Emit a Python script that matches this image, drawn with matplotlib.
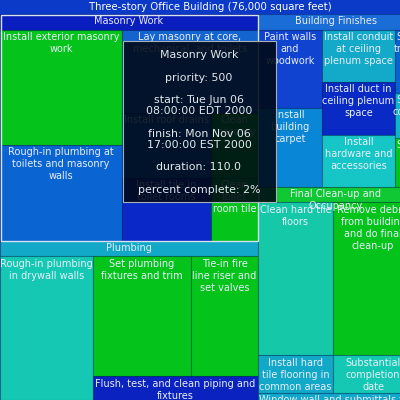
import matplotlib.pyplot as plt
from matplotlib.patches import Rectangle

TITLE = "Three-story Office Building (76,000 square feet)"

# top level nodes (4 groups + one loose task)
root_names = ["Masonry Work", "Plumbing", "Building Finishes",
              "Final Clean-up and\nOccupancy", "Window wall and submittals for\nreview"]
root_layout = [[0, 1], [2, 3, 4]]

masonry_tasks = ["Install exterior masonry\nwork",
                 "Rough-in plumbing at\ntoilets and masonry\nwalls",
                 "Lay masonry at core,\nmechanical, and toilets",
                 "Install roof drains",
                 "Clean\nmasonry",
                 "Install tile in\ntoilet rooms",
                 "Clean\ntoilet\nroom tile"]
masonry_size = [151.0, 126.0, 121.4, 62.2, 32.9, 60.3, 31.9]
masonry_layout = [[0, 1], [2, [[3, 5], [4, 6]]]]

plumbing_tasks = ["Rough-in plumbing\nin drywall walls",
                  "Set plumbing\nfixtures and trim",
                  "Tie-in fire\nline riser and\nset valves",
                  "Flush, test, and clean piping and\nfixtures"]
plumbing_size = [147.9, 129.9, 88.8, 43.7]
plumbing_layout = [[0], [[1, 2], 3]]

finishes_tasks = ["Paint walls\nand\nwoodwork",
                  "Install\nbuilding\ncarpet",
                  "Install conduit\nat ceiling\nplenum space",
                  "Install duct in\nceiling plenum\nspace",
                  "Install\nhardware and\naccessories",
                  "Set\ntrim",
                  "Set\ncove",
                  "Set\n,"]
finishes_size = [55.0, 55.7, 41.8, 42.6, 41.8, 12.5, 8.9, 9.7]
finishes_layout = [[0, 1], [2, 3, 4], [5, 6, 7]]

cleanup_tasks = ["Clean hard tile\nfloors",
                 "Install hard\ntile flooring in\ncommon areas",
                 "Remove debris\nfrom building\nand do final\nclean-up",
                 "Substantial\ncompletion\ndate"]
cleanup_size = [123.8, 30.7, 132.0, 32.8]
cleanup_layout = [[0, 1], [2, 3]]

window_size = 10.9

tooltip_lines = ["Masonry Work", "", "priority: 500", "",
                 "start: Tue Jun 06", "08:00:00 EDT 2000", "",
                 "finish: Mon Nov 06", "17:00:00 EST 2000", "",
                 "duration: 110.0", "", "percent complete: 2%"]

# colours (per task, same order as above)
GREEN = '#04c41c'
masonry_colors = [GREEN, '#0a64d2', '#1464d0', '#0a64d2', GREEN, '#0a28c8', GREEN]
plumbing_colors = ['#14c8b4', GREEN, GREEN, '#0a22c0']
finishes_colors = ['#1044d0', '#0a86d6', '#12aac8', '#0a2ac6', '#16c6c6',
                   '#0a62d0', '#12b4c8', GREEN]
cleanup_colors = ['#14c8a8', '#12a8c8', GREEN, '#14c8b4']
header_colors = ['#0a1ec0', '#12a8c8', '#1a6cd6', '#10c834']
window_color = '#12a8cc'

W, H = 413, 400
TITLE_H = 14
HEAD_H = 15.5
FS = 7
TXT = '#e8eef8'


def weight(node, sizes):
    if isinstance(node, int):
        return sizes[node]
    return sum(weight(n, sizes) for n in node)


def place(node, sizes, x0, y0, x1, y1, horizontal, out):
    # slice the box along alternating directions, proportional to sizes
    if isinstance(node, int):
        out[node] = (x0, y0, x1, y1)
        return
    total = weight(node, sizes)
    cur = x0 if horizontal else y0
    for n in node:
        share = weight(n, sizes) / total
        if horizontal:
            step = (x1 - x0) * share
            place(n, sizes, cur, y0, cur + step, y1, False, out)
        else:
            step = (y1 - y0) * share
            place(n, sizes, x0, cur, x1, cur + step, True, out)
        cur += step


def draw_lines(ax, x, y, text, pitch=12, color=TXT, z=3, fs=FS):
    for i, line in enumerate(text.split("\n")):
        ax.text(x, y + i * pitch, line, ha='center', va='center',
                fontsize=fs, color=color, clip_on=True, zorder=z)


def cell(ax, box, color, label):
    x0, y0, x1, y1 = box
    ax.add_patch(Rectangle((x0, y0), x1 - x0, y1 - y0, facecolor=color,
                           edgecolor=(0, 0, 0, 0.22), linewidth=0.8))
    draw_lines(ax, (x0 + x1) / 2, y0 + 7.5, label)


fig = plt.figure(figsize=(4, 4), dpi=100)
ax = fig.add_axes([0, 0, 1, 1])
ax.set_xlim(0, 400)
ax.set_ylim(400, 0)
ax.axis('off')

# root
ax.add_patch(Rectangle((0, 0), W, H, facecolor='#0b3ac8', edgecolor='none'))
draw_lines(ax, W / 2 + 4, 7, TITLE, color='white', fs=7.3)

groups = [(masonry_tasks, masonry_size, masonry_layout, masonry_colors),
          (plumbing_tasks, plumbing_size, plumbing_layout, plumbing_colors),
          (finishes_tasks, finishes_size, finishes_layout, finishes_colors),
          (cleanup_tasks, cleanup_size, cleanup_layout, cleanup_colors)]
root_size = [sum(g[1]) for g in groups] + [window_size]

root_boxes = {}
place(root_layout, root_size, 0, TITLE_H, W, H, True, root_boxes)

for gi, (tasks, sizes, layout, colors) in enumerate(groups):
    x0, y0, x1, y1 = root_boxes[gi]
    ax.add_patch(Rectangle((x0, y0), x1 - x0, HEAD_H, facecolor=header_colors[gi],
                           edgecolor=(0, 0, 0, 0.22), linewidth=0.8))
    boxes = {}
    place(layout, sizes, x0, y0 + HEAD_H, x1, y1, True, boxes)
    for ti, name in enumerate(tasks):
        cell(ax, boxes[ti], colors[ti], name)
    draw_lines(ax, (x0 + x1) / 2, y0 + 7.5, root_names[gi])

cell(ax, root_boxes[4], window_color, root_names[4])

# hovered group outline
mx0, my0, mx1, my1 = root_boxes[0]
ax.add_patch(Rectangle((mx0 + 1, my0 + 0.5), mx1 - mx0 - 1, my1 - my0 - 0.5,
                       facecolor='none', edgecolor='#d8e4f0', linewidth=1, zorder=4))

# tooltip on top of everything
ax.add_patch(Rectangle((122.5, 40.5), 153.5, 161.5, facecolor='#000814',
                       alpha=0.88, edgecolor='none', zorder=5))
ax.add_patch(Rectangle((122.5, 40.5), 153.5, 161.5, facecolor='none',
                       edgecolor='#a8b0b8', linewidth=0.8, zorder=6))
draw_lines(ax, 199, 55.5, "\n".join(tooltip_lines), pitch=11.2, color='#e4e8ec',
           z=7, fs=7.9)

fig.savefig("out.png", dpi=100)
